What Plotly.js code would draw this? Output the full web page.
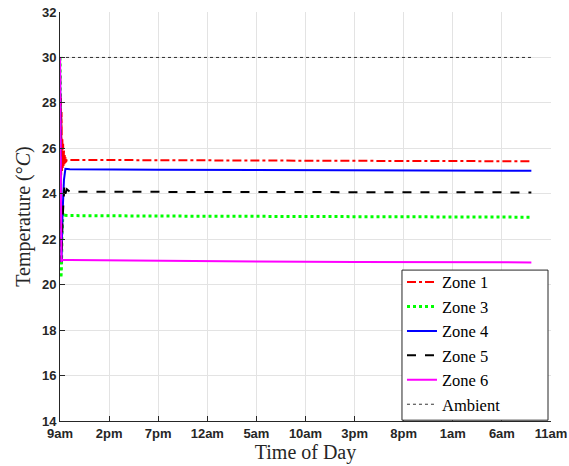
<!DOCTYPE html>
<html>
<head>
<meta charset="utf-8">
<script src="https://cdn.plot.ly/plotly-3.0.1.min.js"></script>
<style>html,body{margin:0;padding:0;background:#fff;}#chart{width:569px;height:466px;}</style>
</head>
<body>
<div id="chart"></div>
<script>
// Time in hours since 9am
const tickHours = [0, 5, 10, 15, 20, 25, 30, 35, 40, 45, 50];
const tickLabels = ["9am", "2pm", "7pm", "12am", "5am", "10am", "3pm", "8pm", "1am", "6am", "11am"];

const zone1Time = [0, 0.04, 0.08, 0.1, 0.12, 0.16, 0.2, 0.24, 0.28, 0.32, 0.36, 0.4, 0.44, 0.48, 0.52, 0.56, 0.6, 0.7, 1, 10, 20, 30, 40, 48];
const zone1Temp = [30, 26.5, 24.6, 28.2, 24.8, 27.6, 25.0, 26.4, 25.1, 26.2, 25.2, 25.9, 25.3, 25.7, 25.35, 25.6, 25.4, 25.48, 25.49, 25.47, 25.46, 25.45, 25.44, 25.43];

const zone3Time = [0, 0.05, 0.1, 0.15, 0.2, 0.3, 0.45, 1, 10, 20, 30, 40, 48];
const zone3Temp = [30, 24, 20.3, 20.8, 22.2, 23.15, 23.05, 23.04, 23.02, 23.0, 22.99, 22.98, 22.97];

const zone4Time = [0, 0.05, 0.1, 0.15, 0.25, 0.4, 0.55, 1, 10, 20, 30, 40, 48];
const zone4Temp = [30, 25, 21.5, 21.0, 23.0, 24.6, 25.1, 25.08, 25.06, 25.04, 25.03, 25.02, 25.01];

const zone5Time = [0, 0.05, 0.1, 0.15, 0.25, 0.35, 0.45, 0.55, 0.7, 1, 10, 20, 30, 40, 48];
const zone5Temp = [30, 25, 21.5, 21.0, 22.8, 23.9, 24.35, 24.0, 24.2, 24.09, 24.08, 24.08, 24.07, 24.07, 24.06];

const zone6Time = [0, 0.05, 0.1, 0.15, 0.2, 0.3, 1, 10, 20, 30, 40, 48];
const zone6Temp = [30, 26, 22, 21.0, 21.1, 21.09, 21.09, 21.05, 21.02, 21.0, 20.99, 20.98];

const ambientTime = [0, 48];
const ambientTemp = [30, 30];

const serif = "Liberation Serif, DejaVu Serif, serif";
const sans = "Liberation Sans, Arial, sans-serif";

const traces = [
  {x: zone1Time, y: zone1Temp, name: "Zone 1", mode: "lines", line: {color: "#ff0000", width: 2, dash: "dashdot"}},
  {x: zone3Time, y: zone3Temp, name: "Zone 3", mode: "lines", line: {color: "#00ff00", width: 3, dash: "dot"}},
  {x: zone4Time, y: zone4Temp, name: "Zone 4", mode: "lines", line: {color: "#0000ff", width: 2, dash: "solid"}},
  {x: zone5Time, y: zone5Temp, name: "Zone 5", mode: "lines", line: {color: "#000000", width: 2, dash: "dash"}},
  {x: zone6Time, y: zone6Temp, name: "Zone 6", mode: "lines", line: {color: "#ff00ff", width: 2, dash: "solid"}},
  {x: ambientTime, y: ambientTemp, name: "Ambient", mode: "lines", line: {color: "#000000", width: 0.8, dash: "dot"}}
];

const layout = {
  width: 569, height: 466,
  margin: {l: 60, r: 18, t: 12, b: 45},
  paper_bgcolor: "#ffffff", plot_bgcolor: "#ffffff",
  showlegend: true,
  xaxis: {
    range: [0, 50],
    tickvals: tickHours, ticktext: tickLabels,
    showgrid: true, gridcolor: "#e3e3e3", gridwidth: 1,
    zeroline: false,
    showline: true, linecolor: "#262626", linewidth: 1,
    ticks: "inside", ticklen: 5, tickcolor: "#262626",
    tickfont: {family: sans, size: 13, color: "#262626", weight: "bold"},
    title: {text: "Time of Day", font: {family: serif, size: 20, color: "#262626"}, standoff: 1}
  },
  yaxis: {
    range: [14, 32],
    tickvals: [14, 16, 18, 20, 22, 24, 26, 28, 30, 32],
    showgrid: true, gridcolor: "#e3e3e3", gridwidth: 1,
    zeroline: false,
    showline: true, linecolor: "#262626", linewidth: 1,
    ticks: "inside", ticklen: 5, tickcolor: "#262626",
    tickfont: {family: sans, size: 13, color: "#262626", weight: "bold"},
    title: {text: "Temperature (°<i>C</i>)", font: {family: serif, size: 20, color: "#262626"}, standoff: 5}
  },
  shapes: [{
    type: "rect", xref: "paper", yref: "paper",
    x0: 0.6965, x1: 0.9939, y0: 0.002, y1: 0.369,
    fillcolor: "#ffffff", line: {color: "#262626", width: 1}, layer: "above"
  }],
  legend: {
    x: 0.6965, xanchor: "left", y: 0.382, yanchor: "top",
    bgcolor: "rgba(0,0,0,0)", borderwidth: 0,
    font: {family: serif, size: 16.5, color: "#000000"},
    tracegroupgap: 0, itemwidth: 30
  }
};

Plotly.newPlot("chart", traces, layout, {displayModeBar: false, staticPlot: true});
</script>
</body>
</html>
